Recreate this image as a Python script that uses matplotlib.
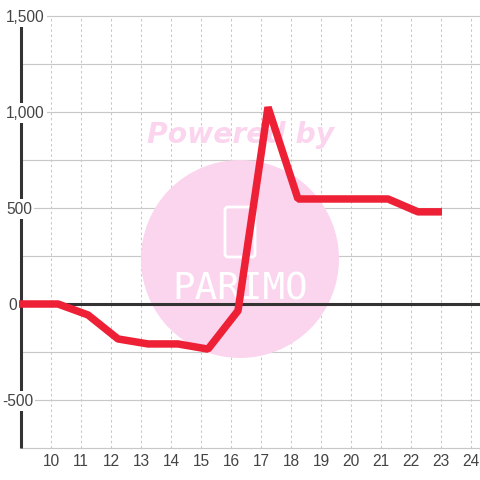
import matplotlib
matplotlib.use("Agg")
import matplotlib.pyplot as plt
from matplotlib.patches import Ellipse, FancyBboxPatch

# values
hours = [8.9, 10.25, 11.25, 12.25, 13.25, 14.25, 15.25, 16.25, 17.25, 18.25, 19.25, 20.25, 21.25, 22.25, 23.05]
values = [0, 0, -57, -182, -208, -208, -235, -35, 1025, 547, 547, 547, 547, 480, 480]
x_ticks = list(range(10, 25))
y_major = [-500, 0, 500, 1000, 1500]
y_minor = [-750, -250, 250, 750, 1250]
y_labels = ["-500", "0", "500", "1,000", "1,500"]
y_label_left = [2, 8, 6, 6, 6]

plt.rcParams['font.family'] = ['Liberation Sans', 'DejaVu Sans']

fig = plt.figure(figsize=(4.8, 4.8), dpi=100)
ax = fig.add_axes([0, 0, 1, 1])
# one unit = 30 px, 96 px = 500
ax.set_xlim(9 - 20.5 / 30, 9 + (480 - 20.5) / 30)
ax.set_ylim(-750 - 32 * 500 / 96, 1500 + 16 * 500 / 96)
ax.axis("off")

grid = "#c8c8c8"
for t in x_ticks:
    ax.plot([t, t], [-750, 1500], color=grid, lw=0.75, ls=(0, (2.4, 2.6)), zorder=1)
for v in y_major + y_minor:
    ax.plot([9, 24.35], [v, v], color=grid, lw=0.85, zorder=1)

# watermark, drawn in pixel coordinates
def px(x, y):
    return (9 + (x - 20.5) / 30, (304 - y) * 500 / 96)

pink = "#fbd5ee"
ax.add_patch(Ellipse(px(240, 259), 198 / 30, 198 * 500 / 96, color=pink, lw=0, zorder=2))
x0, y0 = px(225, 257)
x1, y1 = px(255, 207)
ax.add_patch(FancyBboxPatch((x0, y0), x1 - x0, y1 - y0, boxstyle="round,pad=0,rounding_size=0.1",
                            mutation_aspect=500 / 96 * 30, fc="none", ec="white", lw=2, zorder=3))
ax.text(*px(240, 289), "PARIMO", color="white", fontsize=27, ha="center", va="center",
        family="DejaVu Sans Mono", zorder=3)
ax.text(*px(241, 135), "Powered by", color=pink, fontsize=20.3, fontweight="bold", fontstyle="italic",
        ha="center", va="center", family="DejaVu Sans", zorder=3)

ax.plot([9, 24.35], [0, 0], color="#333333", lw=2.2, zorder=4, solid_capstyle="butt")
ax.plot([9, 9], [-750, 1460], color="#333333", lw=2.2, zorder=4, solid_capstyle="butt")
ax.plot(hours, values, color="#ee2036", lw=5.4, zorder=5, solid_joinstyle="bevel", solid_capstyle="butt")

for t in x_ticks:
    ax.text(t + 0.5 / 30, -750 - 13 * 500 / 96, str(t), color="#444444", fontsize=11.2, ha="center", va="center")
for v, s, left in zip(y_major, y_labels, y_label_left):
    ax.text(9 + (left - 20.5) / 30, v - 500 / 96, s, color="#444444", fontsize=11.2, ha="left", va="center", zorder=6,
            bbox=dict(fc="white", ec="none", pad=1.5))

fig.savefig("out.png", dpi=100)
